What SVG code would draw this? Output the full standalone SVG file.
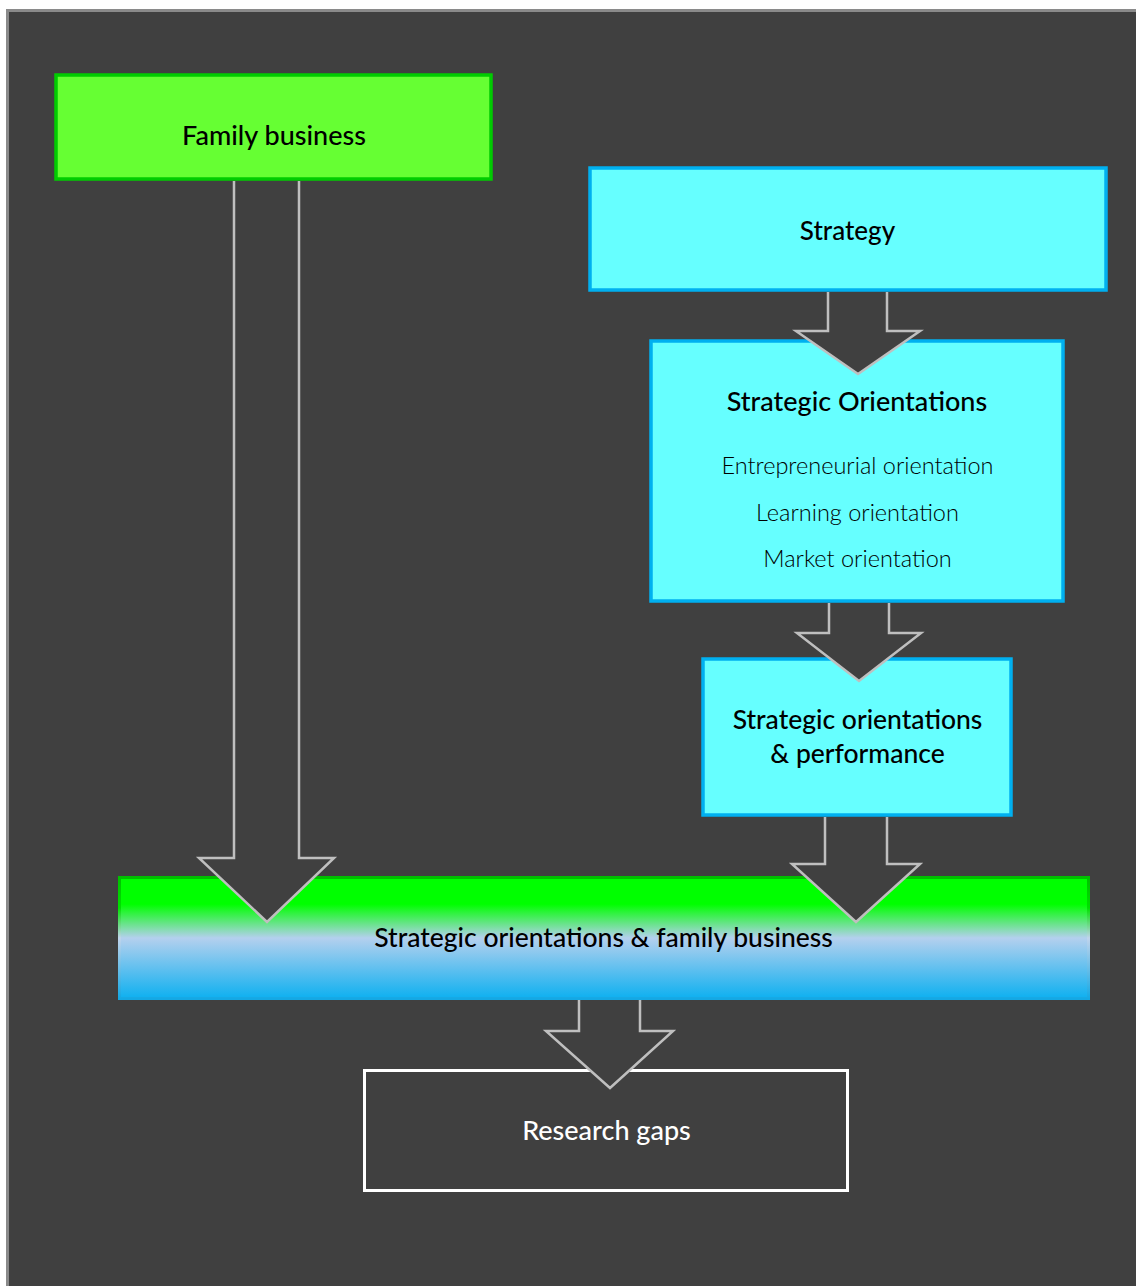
<svg xmlns="http://www.w3.org/2000/svg" width="1136" height="1286" viewBox="0 0 1136 1286">
  <defs>
    <linearGradient id="barFill" x1="0" y1="0" x2="0" y2="1">
      <stop offset="0" stop-color="#00FF00"/>
      <stop offset="0.22" stop-color="#00FF00"/>
      <stop offset="0.5" stop-color="#B4D0EE"/>
      <stop offset="1" stop-color="#0EB0F0"/>
    </linearGradient>
    <linearGradient id="barStroke" x1="0" y1="0" x2="0" y2="1">
      <stop offset="0" stop-color="#00C000"/>
      <stop offset="0.25" stop-color="#00E000"/>
      <stop offset="0.5" stop-color="#C0D4EC"/>
      <stop offset="1" stop-color="#14A8E4"/>
    </linearGradient>
    <style>
      .label { font-family: Lato, "Open Sans", sans-serif; text-anchor: middle; fill: #000; }
      .title { font-size: 27px; font-weight: 500; }
      .item { font-size: 23.5px; font-weight: 300; }
      .green { fill: #66FF33; stroke: #00CC00; stroke-width: 3.5; }
      .cyan { fill: #66FFFF; stroke: #00B0F0; stroke-width: 3.5; }
      .arrow { fill: #404040; stroke: #BFBFBF; stroke-width: 2.5; stroke-linejoin: miter; }
    </style>
  </defs>

  <!-- page and dark panel -->
  <rect x="0" y="0" width="1136" height="1286" fill="#FFFFFF"/>
  <rect x="7.5" y="10.5" width="1140" height="1290" fill="#404040" stroke="#8A8A8A" stroke-width="3"/>

  <!-- nodes -->
  <g id="family-business">
    <rect class="green" x="56" y="75" width="435" height="104"/>
    <text class="label title" x="274" y="145">Family business</text>
  </g>

  <g id="strategy">
    <rect class="cyan" x="590" y="168" width="516" height="122"/>
    <text class="label title" x="847.5" y="240" style="font-size:26px">Strategy</text>
  </g>

  <g id="strategic-orientations">
    <rect class="cyan" x="651" y="341" width="412" height="260"/>
    <text class="label title" x="857" y="411">Strategic Orientations</text>
    <text class="label item" x="857.5" y="474">Entrepreneurial orientation</text>
    <text class="label item" x="857.5" y="521">Learning orientation</text>
    <text class="label item" x="857.5" y="567">Market orientation</text>
  </g>

  <g id="so-performance">
    <rect class="cyan" x="703" y="659" width="308" height="156"/>
    <text class="label title" x="857.5" y="729" style="font-size:26.5px">Strategic orientations</text>
    <text class="label title" x="857.5" y="763" style="font-size:26.5px">&amp; performance</text>
  </g>

  <g id="so-family-business">
    <rect x="119.5" y="877.5" width="969" height="121" fill="url(#barFill)" stroke="url(#barStroke)" stroke-width="3"/>
    <text class="label" x="603.5" y="947" style="font-size:26.5px;font-weight:500">Strategic orientations &amp; family business</text>
  </g>

  <g id="research-gaps">
    <rect x="364.5" y="1070.5" width="483" height="120" fill="none" stroke="#FFFFFF" stroke-width="3"/>
    <text class="label title" x="606.5" y="1140" style="fill:#FFFFFF">Research gaps</text>
  </g>

  <!-- block arrows (open at the tail so the stroke stops at the source box) -->
  <g id="connectors">
    <path class="arrow" d="M234 181 V858 H199 L267 922 L334 858 H299 V181"/>
    <path class="arrow" d="M828 292 V331 H796 L858 374 L920 331 H887 V292"/>
    <path class="arrow" d="M829 603 V633 H797 L859 681 L921 633 H889 V603"/>
    <path class="arrow" d="M825 817 V864 H792 L856 922 L920 864 H887 V817"/>
    <path class="arrow" d="M579 1000 V1031 H546 L610 1088 L673 1031 H640 V1000"/>
  </g>
</svg>
